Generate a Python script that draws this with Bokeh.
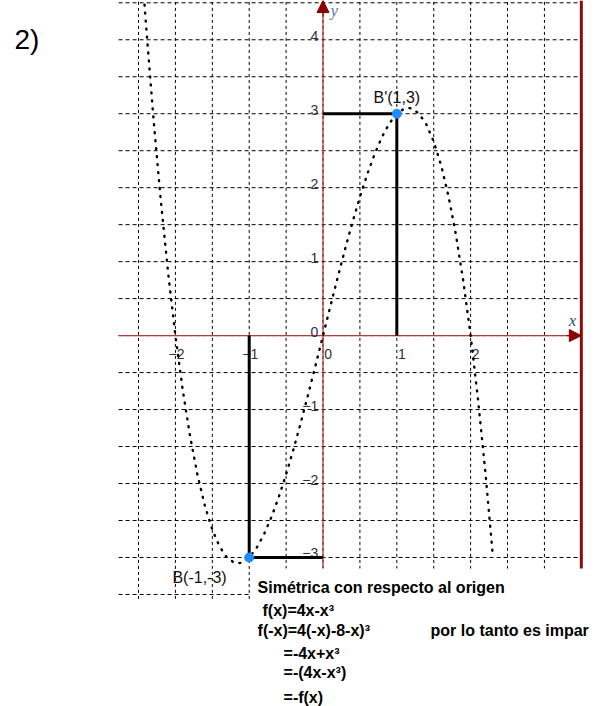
from bokeh.plotting import figure
from bokeh.models import Range1d, Arrow, NormalHead
from bokeh.core.properties import value
from bokeh.embed import file_html
from bokeh.resources import INLINE

# f(x) = 4x - x^3, sampled values
curve_x = [-2.45, -2.4, -2.3, -2.2, -2.1, -2.0, -1.9, -1.8, -1.7, -1.6, -1.5, -1.4,
           -1.3, -1.2, -1.15, -1.1, -1.0, -0.9, -0.8, -0.7, -0.6, -0.5, -0.4, -0.3,
           -0.2, -0.1, 0.0, 0.1, 0.2, 0.3, 0.4, 0.5, 0.6, 0.7, 0.8, 0.9, 1.0, 1.1,
           1.15, 1.2, 1.3, 1.4, 1.5, 1.6, 1.7, 1.8, 1.9, 2.0, 2.1, 2.2, 2.3]
curve_y = [4.906, 4.224, 2.967, 1.848, 0.861, 0.0, -0.741, -1.368, -1.887, -2.304,
           -2.625, -2.856, -3.003, -3.072, -3.079, -3.069, -3.0, -2.871, -2.688,
           -2.457, -2.184, -1.875, -1.536, -1.173, -0.792, -0.399, 0.0, 0.399, 0.792,
           1.173, 1.536, 1.875, 2.184, 2.457, 2.688, 2.871, 3.0, 3.069, 3.079, 3.072,
           3.003, 2.856, 2.625, 2.304, 1.887, 1.368, 0.741, 0.0, -0.861, -1.848, -2.967]

# marked points
point_names = ["B'(1,3)", "B(-1,-3)"]
point_x = [1, -1]
point_y = [3, -3]

# grid and tick values
grid_x = [-2.5, -2.0, -1.5, -1.0, -0.5, 0.0, 0.5, 1.0, 1.5, 2.0, 2.5, 3.0]
grid_y = [-3.5, -3.0, -2.5, -2.0, -1.5, -1.0, -0.5, 0.0, 0.5, 1.0, 1.5, 2.0,
          2.5, 3.0, 3.5, 4.0, 4.5]
xtick_vals = [-2, -1, 0, 1, 2]
xtick_labels = ["\u22122", "\u22121", "0", "1", "2"]
ytick_vals = [-3, -2, -1, 0, 1, 2, 3, 4]
ytick_labels = ["\u22123", "\u22122", "\u22121", "0", "1", "2", "3", "4"]

# plotting window of the graph
X_MIN, X_MAX = -2.77, 3.5
Y_MIN, Y_MAX = -3.56, 4.531

FONT = value("Liberation Sans")

p = figure(width=604, height=706, output_backend="svg", toolbar_location=None,
           x_range=Range1d(-4.370, 3.814), y_range=Range1d(-5.015, 4.531),
           x_axis_location=None, y_axis_location=None,
           min_border=0, min_border_left=0, min_border_right=0,
           min_border_top=0, min_border_bottom=0)
p.grid.visible = False
p.outline_line_color = None
p.background_fill_color = "white"
p.border_fill_color = "white"

# dashed grid
p.segment(x0=grid_x, y0=[Y_MIN] * len(grid_x), x1=grid_x, y1=[Y_MAX] * len(grid_x),
          line_color="black", line_width=1, line_dash="3 3")
p.segment(x0=[X_MIN] * len(grid_y), y0=grid_y, x1=[X_MAX] * len(grid_y), y1=grid_y,
          line_color="black", line_width=1, line_dash="4 3")

# axes
axis_red = "#b83a3a"
head_red = "#8b0000"
p.segment(x0=[X_MIN], y0=[0], x1=[X_MAX - 0.05], y1=[0], line_color=axis_red, line_width=1.3)
p.segment(x0=[0], y0=[Y_MIN], x1=[0], y1=[Y_MAX - 0.05], line_color=axis_red, line_width=1.3)
p.add_layout(Arrow(end=NormalHead(size=12, fill_color=head_red, line_color=head_red),
                   x_start=X_MAX - 0.2, y_start=0, x_end=X_MAX, y_end=0,
                   line_color=head_red, line_width=1))
p.add_layout(Arrow(end=NormalHead(size=12, fill_color=head_red, line_color=head_red),
                   x_start=0, y_start=Y_MAX - 0.2, x_end=0, y_end=Y_MAX,
                   line_color=head_red, line_width=1))
# right border of the graph window
p.segment(x0=[X_MAX], y0=[Y_MIN], x1=[X_MAX], y1=[Y_MAX], line_color="#8b0a0a", line_width=3)

# tick labels
tick_color = "#2e2e48"
p.text(x=[v + 0.122 for v in xtick_vals], y=[-0.243] * len(xtick_vals), text=xtick_labels,
       text_font=FONT, text_font_size="14px", text_color=tick_color,
       text_align="right", text_baseline="alphabetic")
p.text(x=[-0.065] * len(ytick_vals), y=[v + 0.054 for v in ytick_vals], text=ytick_labels,
       text_font=FONT, text_font_size="14px", text_color=tick_color,
       text_align="right", text_baseline="alphabetic")
p.text(x=[3.38], y=[0.2], text=["x"], text_font=value("Liberation Serif"),
       text_font_style="italic", text_font_size="17px", text_color="#2c4a8c",
       text_align="center", text_baseline="alphabetic")
p.text(x=[0.1], y=[4.4], text=["y"], text_font=value("Liberation Serif"),
       text_font_style="italic", text_font_size="17px", text_color="#5a78b8",
       text_align="left", text_baseline="alphabetic")

# white panel holding the explanation
p.quad(left=[-0.98], right=[4.0], bottom=[-5.2], top=[-3.149],
       fill_color="white", line_color=None)

# projection lines from the points to the axes
p.segment(x0=[0] * len(point_x), y0=point_y, x1=point_x, y1=point_y,
          line_color="black", line_width=3)
p.segment(x0=point_x, y0=[0] * len(point_x), x1=point_x, y1=point_y,
          line_color="black", line_width=3)

# the cubic, drawn dotted
p.line(curve_x, curve_y, line_color="black", line_width=2.4, line_dash="1 7",
       line_cap="round")

# points
p.scatter(point_x, point_y, size=9, fill_color="#1f8bff", line_color="#1f8bff")
p.text(x=[1.0, -1.673], y=[3.22, -3.27], text=point_names, text_font=FONT,
       text_font_size="16px", text_color="#111111", text_align="center",
       text_baseline="alphabetic")

# heading number
p.text(x=[-4.18], y=[4.0], text=["2)"], text_font=FONT, text_font_size="28px",
       text_color="black", text_align="left", text_baseline="alphabetic")

# explanation text
notes = ["Sim\u00e9trica con respecto al origen", "f(x)=4x-x\u00b3",
         "f(-x)=4(-x)-8-x)\u00b3", "=-4x+x\u00b3", "=-(4x-x\u00b3)", "=-f(x)",
         "por lo tanto es impar"]
notes_x = [-0.887, -0.820, -0.887, -0.535, -0.535, -0.535, 1.457]
notes_y = [-3.40, -3.717, -3.987, -4.30, -4.555, -4.893, -3.987]
p.text(x=notes_x, y=notes_y, text=notes, text_font=FONT, text_font_size="16px",
       text_font_style="bold", text_color="black", text_align="left",
       text_baseline="alphabetic")

open("out.html", "w").write(file_html(p, INLINE))
